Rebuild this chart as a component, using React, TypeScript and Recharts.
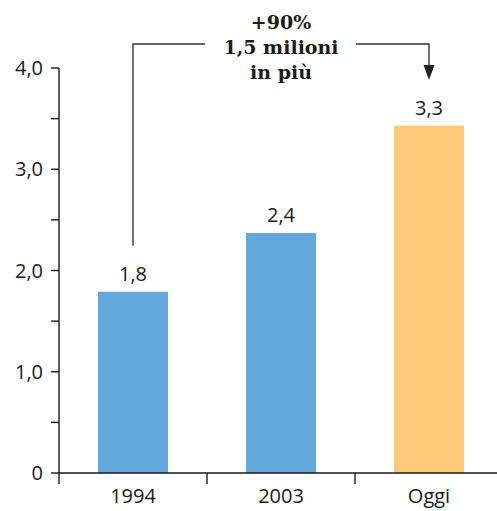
import React from "react";
import { BarChart, Bar, XAxis, YAxis, Cell, LabelList } from "recharts";

const categories = ["1994", "2003", "Oggi"];
const values = [1.79, 2.37, 3.43];
const valueLabels = ["1,8", "2,4", "3,3"];
const barColors = ["#64a9dc", "#64a9dc", "#fcc97a"];
const yTicks = [0, 0.5, 1, 1.5, 2, 2.5, 3, 3.5, 4];
const noteLines = ["+90%", "1,5 milioni", "in più"];

const data = categories.map((name, i) => ({
  name,
  value: values[i],
  label: valueLabels[i],
}));

const CHART_W = 503;
const CHART_H = 511;
const Y_AXIS_W = 59;
const INK = "#1a1a1a";
const FONT = "'Open Sans', sans-serif";
const FONT_SIZE = 20;
const bandHalf = (CHART_W - Y_AXIS_W) / categories.length / 2;

const formatY = (v: number) => {
  if (!Number.isInteger(v)) return "";
  return v === 0 ? "0" : `${v},0`;
};

const CategoryTick = (props: any) => {
  const { x, y, payload } = props;
  return (
    <g>
      <line x1={x - bandHalf} x2={x - bandHalf} y1={y} y2={y + 11} stroke={INK} strokeWidth={1.4} />
      <text x={x} y={y + 30} textAnchor="middle" fontSize={FONT_SIZE} fontFamily={FONT} fill={INK}>
        {payload.value}
      </text>
    </g>
  );
};

// value label above each bar, plus the "+90%" bracket from the first to the last bar
const BarLabel = (props: any) => {
  const { x, y, width, index, value } = props;
  const cx = x + width / 2;
  const topY = 44;
  return (
    <g>
      <text x={cx} y={y - 11} textAnchor="middle" fontSize={FONT_SIZE} fontFamily={FONT} fill={INK}>
        {value}
      </text>
      {index === 0 && (
        <g>
          <polyline
            points={`${cx},${y - 46} ${cx},${topY} 205,${topY}`}
            fill="none"
            stroke="#333"
            strokeWidth={1.4}
          />
          {noteLines.map((t, i) => (
            <text
              key={t}
              x={281}
              y={29 + i * 25}
              textAnchor="middle"
              fontSize={19}
              fontWeight="bold"
              fontFamily="'DejaVu Serif', serif"
              fill={INK}
            >
              {t}
            </text>
          ))}
        </g>
      )}
      {index === categories.length - 1 && (
        <g>
          <polyline
            points={`356,${topY} ${cx},${topY} ${cx},${topY + 22}`}
            fill="none"
            stroke="#333"
            strokeWidth={1.4}
          />
          <polygon points={`${cx - 5.5},${topY + 21} ${cx + 5.5},${topY + 21} ${cx},${topY + 36}`} fill="#222" />
        </g>
      )}
    </g>
  );
};

export default function App() {
  return (
    <div style={{ position: "absolute", left: 0, top: 0, width: 497, height: 511, overflow: "hidden", background: "#fff" }}>
      <BarChart width={CHART_W} height={CHART_H} data={data} margin={{ top: 68, right: 0, bottom: 0, left: 0 }}>
        <XAxis
          dataKey="name"
          height={38}
          interval={0}
          tickLine={false}
          tickSize={0}
          tickMargin={0}
          tick={<CategoryTick />}
          axisLine={{ stroke: INK, strokeWidth: 1.4 }}
        />
        <YAxis
          type="number"
          width={Y_AXIS_W}
          domain={[0, 4]}
          ticks={yTicks}
          interval={0}
          tickFormatter={formatY}
          tickSize={8}
          tickMargin={8}
          tick={{ fontSize: FONT_SIZE, fill: INK, fontFamily: FONT }}
          tickLine={{ stroke: INK, strokeWidth: 1.4 }}
          axisLine={{ stroke: INK, strokeWidth: 1.4 }}
        />
        <Bar dataKey="value" barSize={70} isAnimationActive={false}>
          {data.map((d, i) => (
            <Cell key={d.name} fill={barColors[i]} />
          ))}
          <LabelList dataKey="label" content={<BarLabel />} />
        </Bar>
      </BarChart>
    </div>
  );
}
